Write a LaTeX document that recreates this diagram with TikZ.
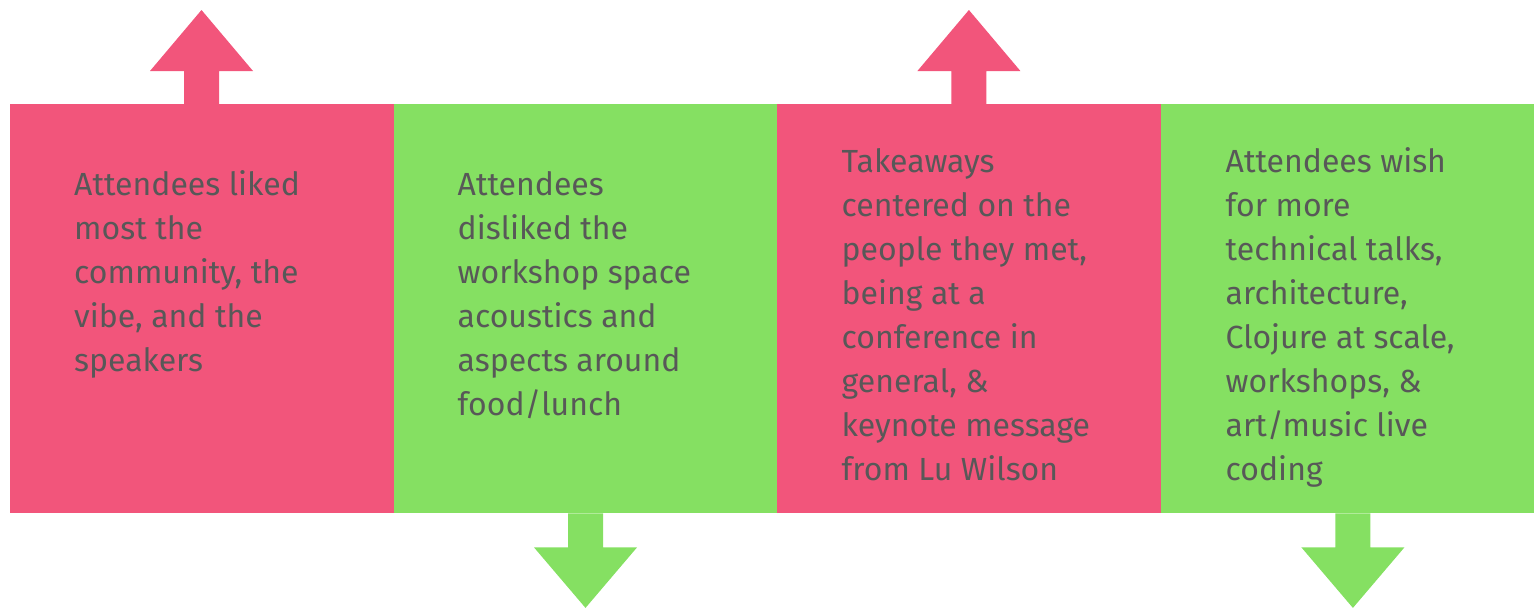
\documentclass[tikz,border=0pt]{standalone}
\usepackage{fontspec}
\setmainfont{Fira Sans}
\definecolor{pinkc}{RGB}{242,85,123}
\definecolor{greenc}{RGB}{133,224,98}
\definecolor{textc}{RGB}{88,88,88}
\begin{document}
\begin{tikzpicture}[x=1pt,y=-1pt,
  panel/.style={draw=none,inner sep=0pt,minimum width=384pt,minimum height=409pt,anchor=north west},
  label/.style={inner sep=0pt,anchor=north west,align=left,text=textc,font=\fontsize{32}{44}\selectfont}]
\useasboundingbox (0,0) rectangle (1534,608);
\clip (0,0) rectangle (1534,608);
% panels
\node[panel,fill=pinkc] (b1) at (9.3,104) {};
\node[panel,fill=greenc] (b2) at (393.3,104) {};
\node[panel,fill=pinkc] (b3) at (776.7,104) {};
\node[panel,fill=greenc] (b4) at (1160.7,104) {};
% arrows
\fill[pinkc] ([xshift=-17.5pt]b1.north) -- ++(0,-33) -- ++(-34,0) -- ([yshift=94pt]b1.north) -- ++(51.5,61) -- ++(-34,0) -- ++(0,33) -- cycle;
\fill[pinkc] ([xshift=-17.5pt]b3.north) -- ++(0,-33) -- ++(-34,0) -- ([yshift=94pt]b3.north) -- ++(51.5,61) -- ++(-34,0) -- ++(0,33) -- cycle;
\fill[greenc] ([xshift=-17.5pt]b2.south) -- ++(0,34) -- ++(-34,0) -- ([yshift=-94.5pt]b2.south) -- ++(51.5,-60.5) -- ++(-34,0) -- ++(0,-34) -- cycle;
\fill[greenc] ([xshift=-17.5pt]b4.south) -- ++(0,34) -- ++(-34,0) -- ([yshift=-94.5pt]b4.south) -- ++(51.5,-60.5) -- ++(-34,0) -- ++(0,-34) -- cycle;
% texts
\node[label] (t1) at (74,165) {\rule{0pt}{30pt}Attendees liked\\most the\\community, the\\vibe, and the\\speakers};
\node[label] (t2) at (457.5,165) {\rule{0pt}{30pt}Attendees\\disliked the\\workshop space\\acoustics and\\aspects around\\food/lunch};
\node[label] (t3) at (841.5,142.3) {\rule{0pt}{30pt}Takeaways\\centered on the\\people they met,\\being at a\\conference in\\general, \&\\keynote message\\from Lu Wilson};
\node[label] (t4) at (1225.5,142.3) {\rule{0pt}{30pt}Attendees wish\\for more\\technical talks,\\architecture,\\Clojure at scale,\\workshops, \&\\art/music live\\coding};
\end{tikzpicture}
\end{document}
